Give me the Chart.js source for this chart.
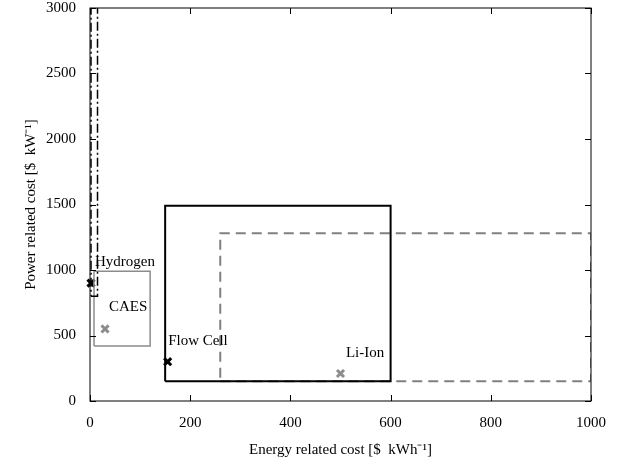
<!DOCTYPE html>
<html>
<head>
<meta charset="utf-8">
<script src="https://cdn.jsdelivr.net/npm/chart.js@4/dist/chart.umd.min.js"></script>
<style>
  body { margin: 0; background: #fff; }
  #wrap { width: 634px; height: 459px; }
</style>
</head>
<body>
<div id="wrap"><canvas id="grafico"></canvas></div>
<script>
// dati
const tecnologie = ["Hydrogen", "CAES", "Flow Cell", "Li-Ion"];
const energiaMin = [2, 8, 150, 260];
const energiaMax = [15, 120, 600, 1000];
const potenzaMin = [800, 420, 150, 150];
const potenzaMax = [4000, 990, 1490, 1280];
const energiaTipica = [2, 30, 155, 500];
const potenzaTipica = [900, 550, 300, 210];
const xTicks = [0, 200, 400, 600, 800, 1000];
const yTicks = [0, 500, 1000, 1500, 2000, 2500, 3000];

// dove mettere le etichette (in unita' dei dati)
const etichettaX = [10, 76, 156, 549];
const etichettaY = [1064, 720, 460, 369];
const etichettaAllinea = ["left", "center", "left", "center"];

// stili
const coloriBordo = ["#000000", "#8c8c8c", "#000000", "#808080"];
const coloriPunto = ["#000000", "#8c8c8c", "#000000", "#8c8c8c"];
const tratteggi = [[9, 3, 2, 3], [], [], [10, 6]];
const spessori = [1.5, 1.5, 2, 2];

const font = "'Liberation Serif', 'Times New Roman', serif";

const datasets = [];
tecnologie.forEach((nome, i) => {
  datasets.push({
    label: nome + " range",
    data: [
      { x: energiaMin[i], y: potenzaMin[i] },
      { x: energiaMax[i], y: potenzaMin[i] },
      { x: energiaMax[i], y: potenzaMax[i] },
      { x: energiaMin[i], y: potenzaMax[i] },
      { x: energiaMin[i], y: potenzaMin[i] }
    ],
    showLine: true,
    fill: false,
    pointRadius: 0,
    borderColor: coloriBordo[i],
    borderWidth: spessori[i],
    borderDash: tratteggi[i],
    tension: 0
  });
});
tecnologie.forEach((nome, i) => {
  datasets.push({
    label: nome,
    data: [{ x: energiaTipica[i], y: potenzaTipica[i] }],
    pointStyle: "crossRot",
    pointRadius: 5,
    pointBorderWidth: 3,
    borderColor: coloriPunto[i],
    backgroundColor: coloriPunto[i],
    clip: false
  });
});

// cornice con le tacche verso l'interno, stile matlab, e le etichette
const cornice = {
  id: "cornice",
  afterDatasetsDraw(chart) {
    const { ctx, chartArea: a, scales } = chart;
    const x = scales.x, y = scales.y;
    ctx.save();
    ctx.strokeStyle = "#000";
    ctx.lineWidth = 1;
    ctx.strokeRect(a.left, a.top, a.right - a.left, a.bottom - a.top);
    ctx.beginPath();
    xTicks.forEach(v => {
      const px = Math.round(x.getPixelForValue(v)) + 0.5;
      ctx.moveTo(px, a.bottom); ctx.lineTo(px, a.bottom - 6);
      ctx.moveTo(px, a.top); ctx.lineTo(px, a.top + 6);
    });
    yTicks.forEach(v => {
      const py = Math.round(y.getPixelForValue(v)) + 0.5;
      ctx.moveTo(a.left, py); ctx.lineTo(a.left + 6, py);
      ctx.moveTo(a.right, py); ctx.lineTo(a.right - 6, py);
    });
    ctx.stroke();

    ctx.fillStyle = "#000";
    ctx.font = "15px " + font;
    ctx.textBaseline = "middle";
    tecnologie.forEach((nome, i) => {
      ctx.textAlign = etichettaAllinea[i];
      ctx.fillText(nome, x.getPixelForValue(etichettaX[i]), y.getPixelForValue(etichettaY[i]));
    });
    ctx.restore();
  }
};

new Chart(document.getElementById("grafico"), {
  type: "scatter",
  data: { datasets: datasets },
  options: {
    responsive: true,
    maintainAspectRatio: false,
    animation: false,
    layout: { padding: { left: 0, right: 43, top: 8, bottom: 0 } },
    plugins: {
      legend: { display: false },
      tooltip: { enabled: false }
    },
    scales: {
      x: {
        type: "linear",
        min: 0,
        max: 1000,
        afterBuildTicks: s => { s.ticks = xTicks.map(v => ({ value: v })); },
        afterFit: s => { s.height = 58; s.paddingLeft = 0; s.paddingRight = 0; },
        grid: { display: false },
        border: { display: false },
        ticks: { color: "#000", font: { family: font, size: 15 }, padding: 5, maxRotation: 0, callback: v => String(v) },
        title: {
          display: true,
          text: "Energy related cost [$  kWh\u207B\u00B9]",
          color: "#000",
          font: { family: font, size: 15 },
          padding: { top: 2, bottom: 0 }
        }
      },
      y: {
        type: "linear",
        min: 0,
        max: 3000,
        afterBuildTicks: s => { s.ticks = yTicks.map(v => ({ value: v })); },
        afterFit: s => { s.width = 90; s.paddingTop = 0; s.paddingBottom = 0; },
        grid: { display: false },
        border: { display: false },
        ticks: { color: "#000", font: { family: font, size: 15 }, padding: 6, callback: v => String(v) },
        title: {
          display: true,
          text: "Power related cost [$  kW\u207B\u00B9]",
          color: "#000",
          font: { family: font, size: 15 },
          padding: { top: 22, bottom: 0 }
        }
      }
    }
  },
  plugins: [cornice]
});
</script>
</body>
</html>
